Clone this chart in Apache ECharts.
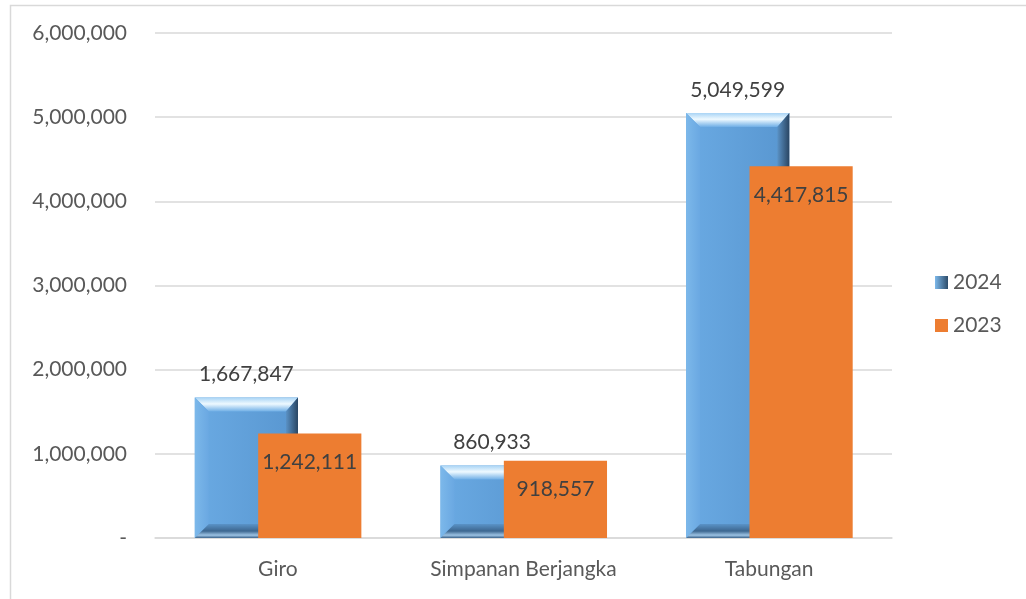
<!DOCTYPE html>
<html>
<head>
<meta charset="utf-8">
<script src="https://cdn.jsdelivr.net/npm/echarts@6/dist/echarts.min.js"></script>
<style>
html,body{margin:0;padding:0;background:#fff;}
#chart{width:1026px;height:599px;}
</style>
</head>
<body>
<div id="chart"></div>
<script>
// data
var categories = ['Giro', 'Simpanan Berjangka', 'Tabungan'];
var values2024 = [1667847, 860933, 5049599];
var values2023 = [1242111, 918557, 4417815];

var fontFam = 'Lato, "Open Sans", sans-serif';
var fontSz = 21;
var fmt = function (v) { return v.toLocaleString('en-US'); };

// 2024 bars: beveled look
function renderBevel(params, api) {
    var cat = api.value(0), val = api.value(1);
    var top = api.coord([cat, val]);
    var base = api.coord([cat, 0]);
    var band = api.size([1, 0])[0];
    var w = band * 0.42;
    var x0 = top[0] - band * 0.338, x1 = x0 + w;
    var y0 = top[1], y1 = base[1];
    var b = Math.min(14, (y1 - y0) / 3);
    var br = Math.min(12, (y1 - y0) / 3);
    var lg = function (x1_, y1_, x2_, y2_, stops) {
        return new echarts.graphic.LinearGradient(x1_, y1_, x2_, y2_, stops);
    };
    return {
        type: 'group',
        children: [
            { type: 'rect', shape: { x: x0, y: y0, width: w, height: y1 - y0 },
              style: { fill: lg(0, 0, 1, 0, [{offset: 0, color: '#6aaae3'}, {offset: 1, color: '#5896d0'}]) } },
            // top bevel
            { type: 'polygon', shape: { points: [[x0, y0], [x1, y0], [x1 - br, y0 + b], [x0 + b, y0 + b]] },
              style: { fill: lg(0, 0, 0, 1, [{offset: 0, color: '#a9d4f5'}, {offset: 0.45, color: '#eef9ff'}, {offset: 1, color: '#6eaee6'}]) } },
            // left bevel
            { type: 'polygon', shape: { points: [[x0, y0], [x0 + b, y0 + b], [x0 + b, y1 - b], [x0, y1]] },
              style: { fill: lg(0, 0, 1, 0, [{offset: 0, color: '#7cb8ea'}, {offset: 1, color: '#6aa8e2'}]) } },
            // right bevel
            { type: 'polygon', shape: { points: [[x1, y0], [x1, y1], [x1 - br, y1 - b], [x1 - br, y0 + b]] },
              style: { fill: lg(0, 0, 1, 0, [{offset: 0, color: '#5a92c6'}, {offset: 1, color: '#2a4663'}]) } },
            // bottom bevel
            { type: 'polygon', shape: { points: [[x0, y1], [x0 + b, y1 - b], [x1 - br, y1 - b], [x1, y1]] },
              style: { fill: lg(0, 0, 0, 1, [{offset: 0, color: '#5a93c8'}, {offset: 0.5, color: '#3d6790'}, {offset: 0.8, color: '#9cc3e4'}, {offset: 1, color: '#3a628a'}]) } },
            { type: 'text', style: { x: (x0 + x1) / 2, y: y0 - 23, text: fmt(val), align: 'center', verticalAlign: 'middle',
              fill: '#404040', fontSize: fontSz, fontFamily: fontFam } }
        ]
    };
}

// 2023 bars: flat orange, label inside near top
function renderFlat(params, api) {
    var cat = api.value(0), val = api.value(1);
    var top = api.coord([cat, val]);
    var base = api.coord([cat, 0]);
    var band = api.size([1, 0])[0];
    var w = band * 0.42;
    var x0 = top[0] - band * 0.08;
    return {
        type: 'group',
        children: [
            { type: 'rect', shape: { x: x0, y: top[1], width: w, height: base[1] - top[1] },
              style: { fill: '#ed7d31' } },
            { type: 'text', style: { x: x0 + w / 2, y: top[1] + 29, text: fmt(val), align: 'center', verticalAlign: 'middle',
              fill: '#404040', fontSize: fontSz, fontFamily: fontFam } }
        ]
    };
}

var chart = echarts.init(document.getElementById('chart'));
chart.setOption({
    animation: false,
    graphic: [{ type: 'rect', left: 8, top: 3, shape: { width: 1100, height: 700 },
        style: { fill: 'none', stroke: '#d9d9d9', lineWidth: 1.5 }, silent: true }],
    grid: { left: 155, right: 134, top: 33, bottom: 61 },
    legend: {
        orient: 'vertical', left: 930, top: 267, itemGap: 22,
        itemWidth: 13, itemHeight: 13, icon: 'rect',
        textStyle: { color: '#595959', fontSize: fontSz, fontFamily: fontFam },
        data: [
            { name: '2024', itemStyle: { color: new echarts.graphic.LinearGradient(0, 0, 1, 0, [{offset: 0, color: '#7cb8ea'}, {offset: 1, color: '#2d4c6a'}]) } },
            { name: '2023', itemStyle: { color: '#ed7d31' } }
        ]
    },
    xAxis: {
        type: 'category', data: categories,
        axisLine: { lineStyle: { color: '#d9d9d9', width: 1.5 } },
        axisTick: { show: false },
        axisLabel: { color: '#595959', fontSize: fontSz, fontFamily: fontFam, margin: 21 }
    },
    yAxis: {
        type: 'value', min: 0, max: 6000000, interval: 1000000,
        axisLine: { show: false }, axisTick: { show: false },
        splitLine: { lineStyle: { color: '#d9d9d9', width: 1.5 } },
        axisLabel: { color: '#595959', fontSize: fontSz, fontFamily: fontFam, margin: 28,
            formatter: function (v) { return v === 0 ? '-' : fmt(v); } }
    },
    series: [
        { name: '2024', type: 'custom', renderItem: renderBevel, itemStyle: { color: '#5b9bd5' },
          encode: { x: 0, y: 1 }, data: values2024.map(function (v, i) { return [i, v]; }) },
        { name: '2023', type: 'custom', renderItem: renderFlat, itemStyle: { color: '#ed7d31' },
          encode: { x: 0, y: 1 }, data: values2023.map(function (v, i) { return [i, v]; }) }
    ]
});
</script>
</body>
</html>
